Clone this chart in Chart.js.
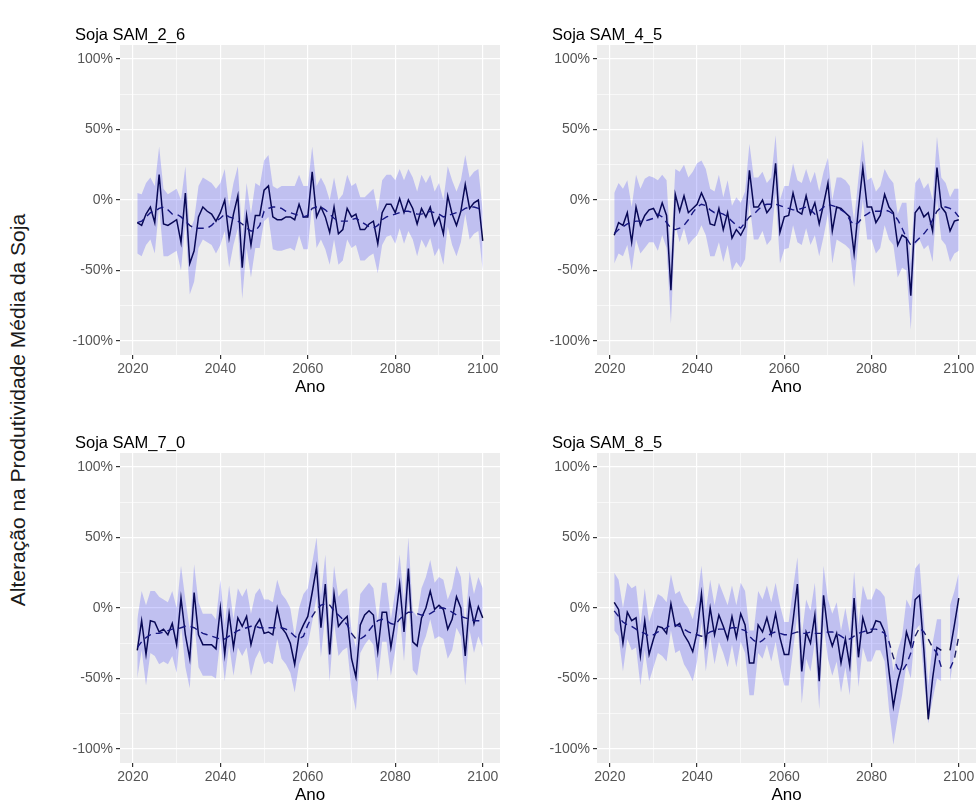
<!DOCTYPE html>
<html lang="pt">
<head>
  <meta charset="UTF-8">
  <title>Soja SAM</title>
  <style>
    body {
      margin: 0;
      background: #fff;
      font-family: "Liberation Sans", Arial, sans-serif;
      overflow: hidden;
    }

    .painel {
      position: absolute;
      height: 380px;
    }

    #yTitulo {
      position: absolute;
      left: 18px;
      top: 410px;
      transform: translate(-50%, -50%) rotate(-90deg);
      white-space: nowrap;
      font-size: 21px;
      color: #1a1a1a;
    }
  </style>
  <script src="https://cdn.jsdelivr.net/npm/chart.js"></script>
</head>

<body>
  <div id="yTitulo">Alteração na Produtividade Média da Soja</div>
  <div class="painel" style="left:60px;top:20px;width:445px"><canvas id="c1"></canvas></div>
  <div class="painel" style="left:537px;top:20px;width:441px"><canvas id="c2"></canvas></div>
  <div class="painel" style="left:60px;top:428px;width:445px"><canvas id="c3"></canvas></div>
  <div class="painel" style="left:537px;top:428px;width:441px"><canvas id="c4"></canvas></div>

  <script>
    // anos 2021..2100
    const anos = Array.from({ length: 80 }, (_, i) => 2021 + i);
    const ticksX = [2020, 2030, 2040, 2050, 2060, 2070, 2080, 2090, 2100];
    const ticksY = [-100, -75, -50, -25, 0, 25, 50, 75, 100];

    // SAM_2_6
    const sam26 = [
      -16, -18, -10, -5, -16, 18, -17, -18, -16, -14,
      -30, 5, -45, -36, -12, -5, -8, -10, -15, -9,
      0, -27, -10, 3, -48, -11, -32, -11, -11, 7,
      10, -12, -14, -14, -12, -12, -14, -3, -12, -12,
      20, -12, -5, -12, -23, -5, -24, -21, -6, -12,
      -10, -21, -21, -17, -15, -31, -9, -3, -3, -9,
      1, -9, 0, -6, -17, -6, -12, -5, -18, -12,
      -24, 3, -10, -18, -8, 11, -6, -2, 0, -29
    ];
    const sam26Media = [
      -16, -15, -12, -9, -8, -6, -5, -7, -10, -10,
      -12, -15, -18, -20, -20, -20, -20, -18, -15, -13,
      -10, -12, -13, -15, -17, -20, -22, -22, -18, -8,
      -6, -5, -5, -6, -8, -9, -10, -11, -12, -11,
      -6, -5, -5, -7, -10, -13, -15, -15, -15, -14,
      -13, -15, -17, -19, -20, -18, -14, -12, -11, -10,
      -9, -8, -8, -9, -10, -10, -9, -8, -9, -10,
      -12, -11, -10, -9, -8, -6, -5, -5, -6, -8
    ];
    const sam26Sup = [
      5, 4, 12, 16, 10, 38, 8, 4, 6, 8,
      0, 24, -22, -14, 10, 16, 14, 12, 8, 12,
      22, -5, 12, 24, -25, 12, -10, 12, 10, 28,
      32, 10, 8, 10, 10, 10, 10, 18, 10, 10,
      38, 10, 16, 10, 0, 16, 0, 4, 18, 10,
      12, 2, 2, 5, 8, -8, 14, 18, 18, 14,
      22, 14, 22, 16, 6, 18, 12, 18, 6, 12,
      0, 24, 14, 6, 14, 32, 16, 20, 22, -8
    ];
    const sam26Inf = [
      -38, -40, -32, -28, -38, -5, -40, -40, -38, -36,
      -50, -16, -67, -58, -34, -28, -30, -32, -38, -32,
      -22, -48, -32, -20, -70, -34, -55, -34, -34, -15,
      -12, -35, -36, -36, -35, -34, -36, -25, -35, -35,
      -2, -34, -28, -35, -46, -28, -46, -43, -28, -34,
      -32, -43, -43, -40, -38, -52, -32, -26, -25, -31,
      -20, -31, -22, -28, -40, -28, -34, -27, -40, -34,
      -46, -19, -32, -40, -30, -10, -28, -24, -22, -50
    ];

    // SAM_4_5
    const sam45 = [
      -25, -16, -18, -9, -30, -5, -18, -11, -7, -6,
      -12, -2, -11, -64, 4, -8, 3, -9, -6, -3,
      5, -2, -17, -18, -6, -21, -9, -27, -21, -25,
      -19, 21, -5, -5, 0, -9, -5, 26, -23, -12,
      -11, 5, -8, -10, 3, -10, -2, -17, -3, 12,
      -22, -5, -6, -9, -12, -38, -6, 23, -5, -5,
      -16, -11, 4, -5, -9, -32, -25, -27, -68, -9,
      -5, -12, -9, -22, 23, -5, -9, -22, -15, -14
    ];
    const sam45Media = [
      -24, -21, -19, -17, -16, -15, -15, -15, -14, -13,
      -10, -12, -16, -20, -21, -20, -18, -14, -9, -5,
      -3, -4, -7, -9, -9, -10, -12, -15, -18, -20,
      -16, -12, -10, -7, -4, -3, -3, -3, -4, -5,
      -6, -7, -7, -6, -5, -7, -10, -8, -5, -3,
      -4, -5, -7, -9, -14, -18, -16, -12, -10, -8,
      -8, -8, -7, -8, -10, -14, -20, -27, -32, -30,
      -27, -24, -20, -14, -8, -5, -5, -6, -8, -12
    ];
    const sam45Sup = [
      5, 12, 8, 14, -5, 18, 8, 15, 17, 16,
      14, 18, 14, -40, 22, 20, 25, 16, 20, 26,
      28, 22, 8, 6, 18, 2, 14, -4, 2, -2,
      6, 40, 16, 16, 20, 12, 16, 46, 0, 10,
      10, 26, 14, 12, 22, 12, 20, 6, 20, 30,
      0, 16, 16, 14, 10, -15, 16, 43, 14, 16,
      6, 10, 22, 16, 12, -10, -2, -2, -45, 12,
      16, 8, 12, 0, 45, 16, 12, 2, 8, 8
    ];
    const sam45Inf = [
      -45, -38, -40, -32, -50, -28, -38, -34, -30, -30,
      -36, -25, -34, -88, -18, -30, -20, -32, -28, -25,
      -18, -25, -40, -40, -30, -44, -32, -50, -44, -48,
      -42, -2, -28, -28, -22, -32, -28, 5, -45, -35,
      -34, -18, -30, -32, -20, -32, -25, -40, -26, -10,
      -45, -28, -30, -32, -35, -62, -28, 0, -28, -28,
      -38, -34, -18, -28, -32, -55, -48, -50, -92, -32,
      -28, -35, -32, -44, 0, -28, -32, -44, -38, -36
    ];

    // SAM_7_0
    const sam70 = [
      -30, -9, -33, -9, -10, -17, -15, -19, -11, -26,
      7, -19, -36, 11, -19, -26, -26, -26, -29, 0,
      -33, -4, -28, -7, -13, -6, -26, -13, -8, -18,
      -17, -19, 0, -14, -18, -25, -40, -19, -12, -6,
      11, 29, -14, 17, -33, 10, -13, -9, -6, -36,
      -49, -12, -5, -2, -5, -31, -3, -3, -28, -9,
      17, -17, 28, -24, -27, -7, 0, 12, -1, 2,
      -1, -15, -8, 8, 0, -34, 5, -11, 1, -7
    ];
    const sam70Media = [
      -28, -24, -21, -19, -18, -18, -17, -16, -15, -15,
      -14, -13, -13, -14, -16, -18, -19, -20, -21, -22,
      -22, -20, -18, -16, -15, -14, -13, -13, -14, -14,
      -14, -14, -14, -14, -15, -17, -20, -22, -20, -12,
      -6, -1, 2, 3, 2, -2, -5, -8, -12, -18,
      -22, -22, -20, -16, -12, -9, -8, -9, -11, -12,
      -8, -5, -3, -3, -4, -5, -5, -4, -2, 0,
      0, -1, -3, -5, -6, -7, -8, -9, -9, -10
    ];
    const sam70Sup = [
      -8, 12, 2, 12, 12, 8, 6, 4, 12, 0,
      30, 6, -15, 31, 4, -4, -4, -4, -8, 20,
      -12, 16, -8, 14, 8, 14, -4, 10, 14, 6,
      6, 4, 20, 10, 6, 0, -20, 0, 10, 14,
      32, 50, 8, 38, -12, 30, 8, 12, 14, -16,
      -28, 10, 14, 18, 14, -10, 18, 18, -8, 12,
      38, 4, 50, -2, -6, 14, 22, 34, 18, 22,
      20, 6, 14, 30, 22, -12, 26, 10, 22, 14
    ];
    const sam70Inf = [
      -50, -30, -55, -32, -34, -40, -38, -40, -34, -46,
      -12, -42, -57, -8, -42, -48, -48, -48, -50, -22,
      -52, -26, -48, -28, -34, -28, -48, -36, -30, -40,
      -38, -40, -22, -36, -40, -46, -60, -40, -32, -26,
      -10, 8, -35, -4, -52, -10, -34, -30, -28, -58,
      -73, -32, -26, -22, -26, -52, -24, -24, -48, -30,
      -4, -38, 6, -44, -48, -28, -20, -8, -22, -20,
      -22, -36, -30, -14, -20, -55, -16, -32, -20, -28
    ];

    // SAM_8_5 (2097 sem dado)
    const sam85 = [
      4, -1, -25, -3, -9, -7, -34, -9, -33, -22,
      -13, -14, -18, 3, -13, -11, -19, -24, -31, -17,
      10, -25, 0, -19, -5, -13, -22, -6, -21, -4,
      -12, -39, -39, -12, -17, -7, -19, -4, -21, -33,
      -33, -9, 17, -45, -17, -25, -5, -52, 9, -17,
      -27, -18, -39, -22, -41, 7, -35, -7, -18, -17,
      -9, -10, -17, -45, -70, -52, -40, -17, -27, 6,
      9, -30, -79, -50, -28, -30, null, -30, -12, 7
    ];
    const sam85Media = [
      -2, -6, -10, -12, -13, -15, -17, -18, -20, -19,
      -17, -16, -14, -12, -12, -13, -15, -17, -18, -19,
      -20, -19, -17, -16, -15, -15, -15, -14, -14, -15,
      -16, -20, -23, -25, -23, -20, -18, -17, -18, -19,
      -19, -18, -17, -18, -18, -17, -18, -18, -18, -17,
      -17, -18, -20, -22, -22, -20, -18, -17, -16, -15,
      -15, -16, -18, -24, -35, -43, -45, -40, -32, -20,
      -14, -17, -22, -28, -32, -42, null, -43, -36, -20
    ];
    const sam85Sup = [
      25, 20, 0, 18, 14, 16, -12, 14, -10, 0,
      10, 8, 4, 24, 10, 12, 4, 0, -8, 6,
      30, -2, 20, 2, 18, 10, 2, 16, 2, 18,
      12, -16, -16, 12, 6, 16, 4, 18, 2, -10,
      -10, 14, 36, -20, 6, -2, 18, -28, 30, 6,
      -4, 4, -16, 0, -18, 26, -12, 16, 6, 6,
      14, 12, 8, -20, -45, -30, -20, 6, 0, 28,
      32, -8, -55, -25, -8, -8, null, 2, 12, 25
    ];
    const sam85Inf = [
      -16, -20, -45, -22, -30, -28, -55, -30, -52, -42,
      -32, -34, -38, -16, -32, -30, -40, -45, -52, -38,
      -10, -45, -20, -40, -24, -32, -42, -26, -42, -24,
      -32, -62, -62, -32, -36, -26, -38, -24, -42, -55,
      -55, -30, -4, -68, -36, -45, -24, -72, -12, -36,
      -48, -38, -60, -42, -62, -14, -56, -28, -38, -38,
      -30, -30, -38, -72, -97, -78, -62, -40, -50, -16,
      -12, -50, -82, -65, -50, -52, null, -52, -32, -12
    ];

    const fonte = '"Liberation Sans", Arial, sans-serif';

    // fundo cinza do painel + titulo acima do painel (estilo ggplot)
    const fundoPainel = {
      id: 'fundoPainel',
      beforeDraw(chart) {
        const a = chart.chartArea;
        const ctx = chart.ctx;
        ctx.save();
        ctx.fillStyle = '#EDEDED';
        ctx.fillRect(a.left, a.top, a.right - a.left, a.bottom - a.top);
        ctx.restore();
      },
      afterDraw(chart, args, opts) {
        const a = chart.chartArea;
        const ctx = chart.ctx;
        ctx.save();
        ctx.fillStyle = '#000';
        ctx.font = '16.5px ' + fonte;
        ctx.textBaseline = 'middle';
        ctx.textAlign = 'left';
        ctx.fillText(opts.texto, a.left - 45, a.top - 10);
        ctx.restore();
      }
    };

    function pontos(vals) {
      return vals.map((v, i) => ({ x: anos[i], y: v }));
    }

    function criarPainel(id, titulo, serie, media, sup, inf, padRight) {
      new Chart(document.getElementById(id), {
        type: 'line',
        data: {
          datasets: [
            {
              data: pontos(sup),
              borderWidth: 0,
              pointRadius: 0,
              fill: '+1',
              backgroundColor: 'rgba(0, 0, 255, 0.19)'
            },
            {
              data: pontos(inf),
              borderWidth: 0,
              pointRadius: 0,
              fill: false
            },
            {
              data: pontos(media),
              borderColor: '#1c1c66',
              borderWidth: 1.4,
              borderDash: [7, 5],
              pointRadius: 0,
              fill: false
            },
            {
              data: pontos(serie),
              borderColor: '#0b0b2e',
              borderWidth: 1.5,
              pointRadius: 0,
              fill: false
            }
          ]
        },
        options: {
          responsive: true,
          maintainAspectRatio: false,
          animation: false,
          layout: { padding: { left: 6, right: padRight, top: 25, bottom: 0 } },
          elements: { line: { tension: 0 } },
          plugins: {
            legend: { display: false },
            tooltip: { enabled: false },
            title: { display: false },
            fundoPainel: { texto: titulo }
          },
          scales: {
            x: {
              type: 'linear',
              min: 2017.05,
              max: 2103.95,
              afterBuildTicks: s => { s.ticks = ticksX.map(v => ({ value: v })); },
              afterFit: s => { s.height = 45; },
              ticks: {
                color: '#555555',
                font: { size: 14, family: fonte },
                padding: 2,
                maxRotation: 0,
                autoSkip: false,
                callback: v => (v % 20 === 0 ? String(v) : '')
              },
              grid: {
                color: '#FFFFFF',
                lineWidth: c => (c.tick && c.tick.value % 20 === 0 ? 1.2 : 0.6),
                tickColor: c => (c.tick && c.tick.value % 20 === 0 ? '#333333' : 'rgba(0,0,0,0)'),
                tickLength: 4,
                drawTicks: true
              },
              border: { display: false },
              title: {
                display: true,
                text: 'Ano',
                color: '#000',
                font: { size: 17, family: fonte },
                padding: { top: 0, bottom: 2 }
              }
            },
            y: {
              min: -110,
              max: 110,
              afterBuildTicks: s => { s.ticks = ticksY.map(v => ({ value: v })); },
              afterFit: s => { s.width = 54; },
              ticks: {
                color: '#555555',
                font: { size: 14, family: fonte },
                padding: 3,
                autoSkip: false,
                callback: v => (v % 50 === 0 ? v + '%' : '')
              },
              grid: {
                color: '#FFFFFF',
                lineWidth: c => (c.tick && c.tick.value % 50 === 0 ? 1.2 : 0.6),
                tickColor: c => (c.tick && c.tick.value % 50 === 0 ? '#333333' : 'rgba(0,0,0,0)'),
                tickLength: 4,
                drawTicks: true
              },
              border: { display: false }
            }
          }
        },
        plugins: [fundoPainel]
      });
    }

    criarPainel('c1', 'Soja SAM_2_6', sam26, sam26Media, sam26Sup, sam26Inf, 5);
    criarPainel('c2', 'Soja SAM_4_5', sam45, sam45Media, sam45Sup, sam45Inf, 2);
    criarPainel('c3', 'Soja SAM_7_0', sam70, sam70Media, sam70Sup, sam70Inf, 5);
    criarPainel('c4', 'Soja SAM_8_5', sam85, sam85Media, sam85Sup, sam85Inf, 2);
  </script>
</body>

</html>
